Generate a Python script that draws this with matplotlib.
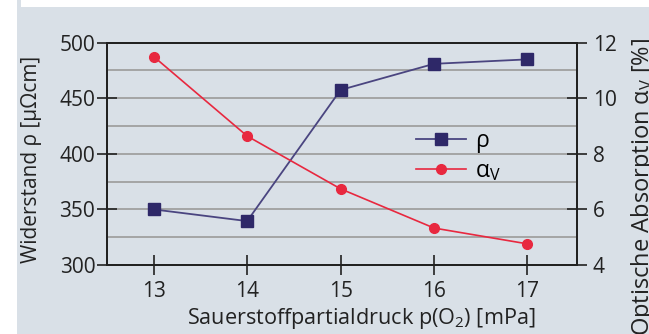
import matplotlib
matplotlib.use('Agg')
import matplotlib.pyplot as plt
from matplotlib.patches import Rectangle
from matplotlib.ticker import MultipleLocator

plt.rcParams['font.family'] = ['Open Sans', 'DejaVu Sans']
plt.rcParams['mathtext.fontset'] = 'custom'
plt.rcParams['mathtext.rm'] = 'Open Sans'
plt.rcParams['mathtext.it'] = 'Open Sans:italic'

# data
pressure = [13, 14, 15, 16, 17]
rho = [350, 339.5, 457.5, 481, 485]
alpha_v = [11.5, 8.64, 6.74, 5.33, 4.76]

x_ticks = [13, 14, 15, 16, 17]
rho_ticks = [300, 350, 400, 450, 500]
alpha_ticks = [4, 6, 8, 10, 12]

bg = '#d9e0e7'
navy = '#2e2868'
navy_line = '#4a4580'
red = '#e8283f'
spine_c = '#222222'

fig = plt.figure(figsize=(6.49, 3.34), dpi=100)
fig.patch.set_facecolor('white')
fig.patches.append(Rectangle((17/649, 0), 1, 1, transform=fig.transFigure,
                             facecolor=bg, edgecolor='none', zorder=-10))
fig.patches.append(Rectangle((21/649, 1 - 7/334), 1, 1, transform=fig.transFigure,
                             facecolor='white', edgecolor='none', zorder=-9))

ax = fig.add_axes([107/649, 69/334, 470/649, 222.3/334])
ax.set_facecolor(bg)
ax2 = ax.twinx()

l1, = ax.plot(pressure, rho, color=navy_line, lw=1.3, marker='s', ms=8,
              mfc=navy, mec=navy, zorder=3, label='ρ')
l2, = ax2.plot(pressure, alpha_v, color=red, lw=1.2, marker='o', ms=7,
               mfc=red, mec=red, zorder=3, label=r'$\mathrm{α_V}$')

ax.set_xlim(12.5, 17.53)
ax.set_ylim(300, 500)
ax2.set_ylim(4, 12)
ax.set_xticks(x_ticks)
ax.set_yticks(rho_ticks)
ax2.set_yticks(alpha_ticks)
ax.yaxis.set_minor_locator(MultipleLocator(25))
ax.tick_params(axis='y', which='minor', length=0)
ax.grid(axis='y', which='both', color='#a0a0a0', lw=1.3, zorder=0)
ax.set_axisbelow(True)

for a in (ax, ax2):
    for s in a.spines.values():
        s.set_color(spine_c)
        s.set_linewidth(1.4)
    a.tick_params(which='major', direction='inout', length=15, width=1.2,
                  color=spine_c, labelsize=15, labelcolor='#222222')
ax.tick_params(axis='y', pad=1)
ax2.tick_params(axis='y', pad=4)
ax.tick_params(axis='x', pad=4)

ax.set_xlabel(r'Sauerstoffpartialdruck p(O$_\mathrm{2}$) [mPa]', fontsize=15.6,
              color='#222222')
ax.xaxis.set_label_coords(0.5415, -0.185)
ax.set_ylabel('Widerstand ρ [µΩcm]', fontsize=15, color='#222222')
ax.yaxis.set_label_coords(-0.138, 0.477)
ax2.set_ylabel(r'Optische Absorption $\mathrm{α_V}$ [%]', fontsize=17,
               color='#222222')
ax2.yaxis.set_label_coords(1.11, 0.35)

leg = ax.legend([l1, l2], ['ρ', r'$\mathrm{α_V}$'], loc='center left',
                bbox_to_anchor=(0.613, 0.49), frameon=False, fontsize=16.5,
                handlelength=2.2, handletextpad=0.4, labelspacing=0.25)
leg.set_zorder(5)

fig.savefig('out.png', dpi=100, facecolor=fig.get_facecolor())
